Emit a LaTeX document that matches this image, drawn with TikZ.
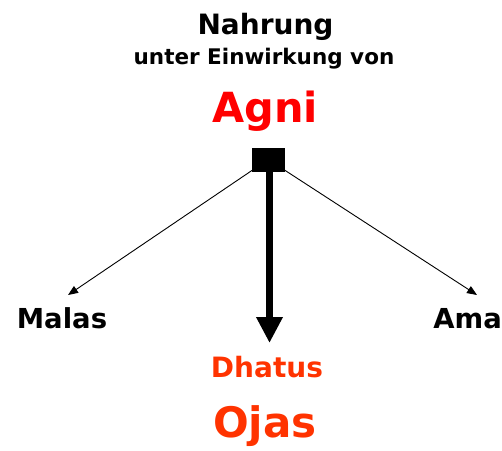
\documentclass[tikz,border=0pt]{standalone}
\usepackage{fontspec}
\setmainfont{DejaVu Sans}
\usetikzlibrary{arrows.meta}
\definecolor{agnired}{HTML}{FF0000}
\definecolor{dhatured}{HTML}{FF3300}
\begin{document}
\begin{tikzpicture}[x=1pt,y=1pt,font=\bfseries]
  \tikzstyle{t}=[anchor=base,inner sep=0]
  \tikzstyle{thin}=[draw,line width=0.9pt,-{Triangle[length=10pt,width=8pt]}]
  \tikzstyle{thick}=[draw,line width=7.5pt,-{Triangle[length=26pt,width=25pt]}]
  \useasboundingbox (0,0) rectangle (502,450);

  \node[t] (nahrung) at (265.5,415) {\fontsize{28}{30}\selectfont Nahrung};
  \node[t] (einwirkung) at (264,385) {\fontsize{21.5}{24}\selectfont unter Einwirkung von};
  \node[t,text=agnired] (agni) at (265,327) {\fontsize{41.5}{44}\selectfont Agni};
  \node[fill=black,minimum width=33pt,minimum height=24pt,inner sep=0] (knot) at (268.5,290) {};

  \coordinate (malastip) at (68,155);
  \coordinate (amatip) at (477,155);
  \coordinate (dhatustip) at (269.5,107);

  \node[t] (malas) at (62,122) {\fontsize{27.5}{30}\selectfont Malas};
  \node[t,anchor=base east] (ama) at (502,122) {\fontsize{27.5}{30}\selectfont Ama};
  \node[t,text=dhatured] (dhatus) at (267,73) {\fontsize{28}{30}\selectfont Dhatus};
  \node[t,text=dhatured] (ojas) at (265,13) {\fontsize{42}{45}\selectfont Ojas};

  \draw[thin] ([xshift=2pt,yshift=3pt]knot.south west) -- (malastip);
  \draw[thin] ([xshift=-2pt,yshift=3pt]knot.south east) -- (amatip);
  \draw[thick] (knot.south -| dhatustip) -- (dhatustip);
\end{tikzpicture}
\end{document}
